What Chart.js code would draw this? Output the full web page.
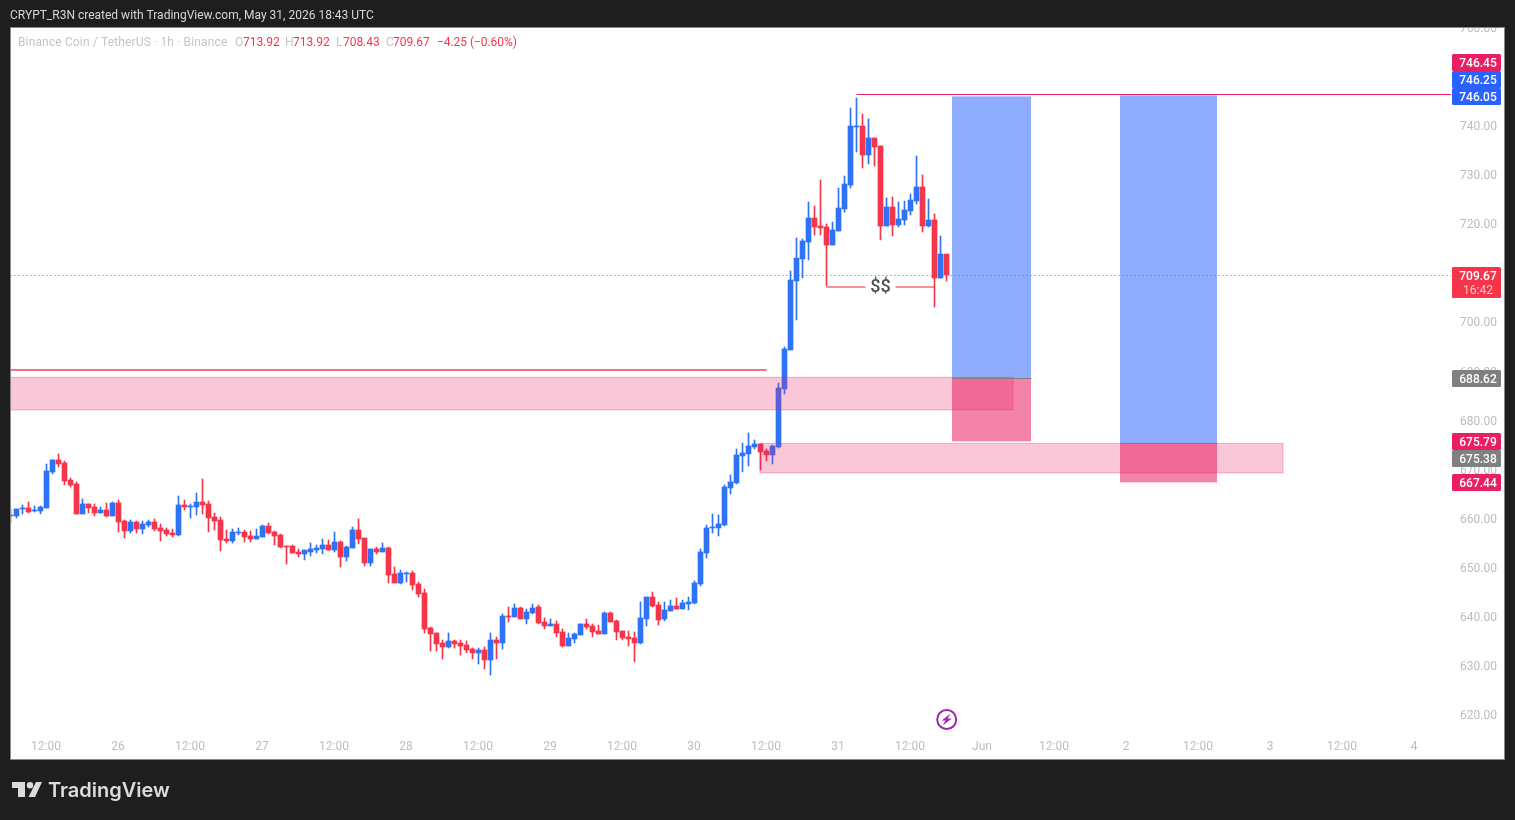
<!DOCTYPE html>
<html>
<head>
<meta charset="utf-8">
<title>BNBUSDT 1h</title>
<script src="https://cdn.jsdelivr.net/npm/chart.js@4"></script>
<style>
  html, body { margin: 0; padding: 0; background: #1e1e1e; overflow: hidden; }
  canvas { display: block; }
</style>
</head>
<body>
<canvas id="chart" width="1515" height="820"></canvas>
<script>
// hourly candles, first one is 25 May 06:00, hour 0 is 25 May 12:00
const firstHour = -6;
const opens = [
  660.59,660.59,662.02,662.22,661.61,661.61,662.22,669.55,672.00,671.39,667.92,667.11,661.00,663.04,662.42,661.20,661.81,660.59,663.24,659.57,657.54,659.37,657.94,658.76,659.37,658.15,657.74,657.13,656.72,662.83,662.42,662.42,663.44,663.04,660.39,659.78,655.91,655.50,657.13,657.33,656.52,
  655.90,656.31,658.55,657.33,656.72,654.48,654.48,653.26,652.85,653.26,653.66,653.87,654.68,653.66,655.29,652.24,654.07,657.74,656.11,651.02,653.87,653.26,654.07,648.78,646.94,648.78,648.98,646.74,644.91,637.78,636.76,634.72,633.91,635.13,634.72,634.32,633.50,632.69,633.30,631.26,635.33,634.72,640.22,
  640.02,641.85,639.61,640.84,642.06,639.00,638.19,638.60,636.97,634.11,635.54,636.35,638.60,638.19,637.17,636.56,640.84,639.21,637.17,635.95,635.74,634.73,639.61,644.09,642.46,639.61,641.24,642.26,641.65,642.67,642.87,
  646.74,653.06,658.15,658.15,658.76,666.30,667.32,672.81,673.22,674.65,675.26,673.83,673.02,674.65,686.46,
  694.40,708.45,712.93,716.39,721.28,719.65,719.45,715.78,718.63,723.12,728.00,739.82,740.02,734.11,737.58,735.95,719.65,723.52,719.86,720.87,722.71,724.74,727.60,719.65,720.87,709.06,713.92
];
const highs = [
  662.02,662.02,662.83,663.44,662.63,662.63,671.18,672.00,673.22,671.79,668.33,667.52,664.05,663.04,663.04,662.42,663.24,663.44,663.85,659.78,659.78,659.57,659.57,659.78,659.98,658.96,658.15,657.94,664.66,663.85,663.04,665.28,668.13,663.65,661.20,660.39,657.74,657.94,658.15,657.74,657.54,
  657.94,658.75,659.16,657.53,656.92,654.48,654.68,653.87,653.66,655.09,654.68,655.90,655.70,657.33,655.50,654.48,658.35,659.98,656.11,653.87,654.27,655.09,654.27,650.20,649.59,649.18,649.39,647.15,645.72,637.98,636.76,635.33,636.76,635.33,635.33,635.13,633.70,633.70,633.91,636.76,635.94,640.63,642.05,
  642.67,642.06,641.65,642.67,642.46,639.82,639.61,639.21,637.58,636.76,636.76,638.60,639.61,638.60,638.39,641.04,641.04,639.41,637.17,637.17,636.97,643.08,644.09,645.11,643.08,643.08,643.48,643.89,643.48,644.09,647.35,
  653.87,658.76,661.00,660.80,666.91,668.94,674.24,675.46,677.50,676.07,675.26,674.24,675.05,687.68,695.01,
  710.49,717.21,717.00,724.54,723.73,729.02,720.06,720.47,727.39,729.84,743.69,745.72,742.46,741.45,737.58,735.95,725.36,725.56,724.54,724.74,726.17,733.91,730.04,725.15,722.10,717.62,713.92
];
const lows = [
  659.23,660.18,661.00,661.20,661.41,661.00,662.22,669.15,670.57,666.90,666.50,661.00,661.00,661.20,660.59,661.20,660.39,660.59,657.33,656.11,657.13,657.13,656.93,658.35,657.54,655.50,656.52,656.31,656.52,661.81,660.18,660.79,661.00,657.33,657.74,653.46,655.09,655.09,656.72,655.30,655.30,
  655.90,656.31,656.92,654.68,654.07,650.81,653.05,652.24,651.63,652.44,653.05,652.85,653.66,653.26,650.20,651.42,654.07,654.89,650.40,650.40,652.85,653.26,646.94,646.94,646.74,647.15,645.52,644.09,636.76,633.09,633.09,631.46,633.70,633.70,632.28,632.69,631.46,630.44,629.43,628.20,631.46,633.50,639.00,
  640.02,639.61,638.60,640.63,638.60,637.58,638.19,635.95,633.91,634.11,634.73,636.35,637.58,635.95,636.56,636.56,639.00,635.34,635.34,634.11,630.86,634.52,638.19,642.06,638.39,639.21,641.24,641.65,641.65,641.45,642.67,
  646.34,652.04,657.13,656.52,658.56,665.07,667.11,669.56,670.78,674.24,669.96,671.80,671.18,674.44,685.44,
  694.40,700.51,709.06,712.73,717.82,717.82,707.43,715.78,718.63,722.50,727.39,734.72,731.47,732.28,731.87,716.80,719.65,717.62,719.45,719.86,721.89,724.13,718.43,719.45,703.16,709.06,708.43
];
const closes = [
  660.79,662.02,662.22,661.41,661.81,662.42,669.76,672.00,671.18,667.72,666.90,661.00,663.04,662.22,661.20,661.81,660.59,663.24,659.37,657.54,659.37,657.94,658.96,659.37,657.94,657.54,656.93,656.72,662.83,662.42,662.63,663.44,662.83,660.18,659.57,655.70,655.50,657.33,657.33,656.31,655.91,
  656.51,658.55,657.13,656.51,654.27,654.27,653.05,652.85,653.66,653.87,654.07,654.68,653.66,655.29,652.24,654.27,657.74,655.90,651.02,653.87,653.26,654.07,648.57,646.94,648.98,648.98,646.53,644.70,637.57,636.56,634.52,633.91,635.13,634.52,634.11,633.30,632.69,633.30,631.26,635.33,634.72,640.22,640.02,
  641.85,639.61,641.04,641.85,638.80,638.19,638.60,636.76,634.11,635.74,636.56,638.60,637.98,636.97,636.56,640.84,639.00,636.97,635.74,635.54,634.73,639.82,644.09,642.26,639.41,641.45,642.26,641.65,642.87,643.08,646.95,
  653.26,658.15,658.35,658.96,666.50,667.52,673.02,673.43,674.85,675.26,673.63,673.02,674.85,686.66,694.61,
  708.65,713.13,716.60,721.28,719.45,719.25,715.78,718.84,723.32,728.21,740.02,740.02,734.11,737.58,735.74,719.65,723.52,719.86,721.08,722.91,724.95,727.60,719.65,720.87,709.06,713.95,709.67
];

// axes
const priceTicks = [620,630,640,650,660,670,680,690,700,710,720,730,740,750,760];
const timeTickHours = [0,12,24,36,48,60,72,84,96,108,120,132,144,156,168,180,192,204,216,228];
const timeTickLabels = ['12:00','26','12:00','27','12:00','28','12:00','29','12:00','30','12:00','31','12:00','Jun','12:00','2','12:00','3','12:00','4'];

// drawings, hours and prices
const zoneStartHours = [-10, 119];
const zoneEndHours = [161.17, 206.17];
const zoneTops = [688.85, 675.38];
const zoneBottoms = [682.18, 669.35];
const positionStartHours = [151, 179];
const positionEndHours = [164.17, 195.17];
const positionTargets = [746.05, 746.25];
const positionEntries = [688.62, 675.38];
const positionStops = [675.79, 667.44];
const lastPrice = 709.67;
const levelStartHours = [-10, 135];
const levelEndHours = [120, 240];
const levelPrices = [690.4, 746.45];
const sweepHours = [130, 136.5, 141.5, 148];
const sweepPrice = 707.3;

const tagLabels = ['746.45','746.25','746.05','688.62','675.79','675.38','667.44'];
const tagFills = ['#e91e63','#2962ff','#2962ff','#808080','#e91e63','#808080','#e91e63'];
const tagCenters = [62.5,79.5,96.5,378.5,441.5,458.5,482.5];

const UP = '#2e73f6';
const DOWN = '#f5364a';
const FONT = 'Roboto, sans-serif';

const hours = opens.map((v, i) => firstHour + i);
const candleColors = opens.map((v, i) => closes[i] >= v ? UP : DOWN);
const wicks = hours.map((h, i) => ({ x: h, y: [lows[i], highs[i]] }));
const bodies = hours.map((h, i) => ({ x: h, y: [opens[i], closes[i]] }));

function text(ctx, str, x, y, color, font, align) {
    ctx.fillStyle = color;
    ctx.font = font || '12px ' + FONT;
    ctx.textAlign = align || 'left';
    ctx.textBaseline = 'middle';
    ctx.fillText(str, x, y);
}

const page = {
    id: 'page',
    beforeDraw(chart) {
        const ctx = chart.ctx;
        ctx.save();
        ctx.fillStyle = '#1e1e1e';
        ctx.fillRect(0, 0, 1515, 820);
        ctx.fillStyle = '#ffffff';
        ctx.fillRect(11, 28, 1493, 731);
        ctx.restore();
    },
    afterDatasetsDraw(chart) {
        const ctx = chart.ctx;
        const xs = chart.scales.x;
        const ys = chart.scales.y;
        const area = chart.chartArea;
        const box = (h0, h1, p0, p1, fill, edge) => {
            const x0 = xs.getPixelForValue(h0) - 0.5;
            const x1 = xs.getPixelForValue(h1) - 0.5;
            const y0 = ys.getPixelForValue(p0);
            const y1 = ys.getPixelForValue(p1);
            ctx.fillStyle = fill;
            ctx.fillRect(x0, y0, x1 - x0, y1 - y0);
            if (edge) {
                ctx.strokeStyle = edge;
                ctx.lineWidth = 1;
                ctx.strokeRect(x0, y0, x1 - x0, y1 - y0);
            }
        };
        const seg = (h0, h1, p, color, width, dash) => {
            ctx.strokeStyle = color;
            ctx.lineWidth = width;
            ctx.setLineDash(dash || []);
            ctx.beginPath();
            const y = Math.round(ys.getPixelForValue(p)) + (width % 2 ? 0.5 : 0);
            ctx.moveTo(xs.getPixelForValue(h0), y);
            ctx.lineTo(xs.getPixelForValue(h1), y);
            ctx.stroke();
            ctx.setLineDash([]);
        };

        ctx.save();
        ctx.beginPath();
        ctx.rect(area.left, area.top, area.right - area.left, area.bottom - area.top);
        ctx.clip();

        positionStartHours.forEach((h, i) => {
            box(h, positionEndHours[i], positionTargets[i], positionEntries[i], 'rgba(41,98,255,0.52)');
            box(h, positionEndHours[i], positionEntries[i], positionStops[i], 'rgba(233,30,99,0.55)');
        });
        zoneStartHours.forEach((h, i) => {
            box(h, zoneEndHours[i], zoneTops[i], zoneBottoms[i], 'rgba(233,30,99,0.25)', 'rgba(233,30,99,0.3)');
        });
        positionStartHours.forEach((h, i) => {
            seg(h, positionEndHours[i], positionEntries[i], '#808080', 1);
        });
        seg(-10, 240, lastPrice, DOWN, 1, [1, 3]);
        levelStartHours.forEach((h, i) => {
            if (i === 0) seg(h, levelEndHours[i], levelPrices[i], 'rgba(242,54,69,0.7)', 2);
            else seg(h, levelEndHours[i], levelPrices[i], '#e91e63', 1);
        });
        seg(sweepHours[0], sweepHours[1], sweepPrice, 'rgba(242,54,69,0.55)', 2);
        seg(sweepHours[2], sweepHours[3], sweepPrice, 'rgba(242,54,69,0.55)', 2);
        text(ctx, '$$', xs.getPixelForValue(139), ys.getPixelForValue(sweepPrice) + 1, '#4f4f4f', '500 18px ' + FONT, 'center');

        // bolt marker under the last candle
        const bx = xs.getPixelForValue(150) + 0.2;
        const by = 719.5;
        ctx.strokeStyle = '#9c27b0';
        ctx.lineWidth = 2;
        ctx.beginPath();
        ctx.arc(bx, by, 9.5, 0, Math.PI * 2);
        ctx.stroke();
        ctx.fillStyle = '#9c27b0';
        ctx.beginPath();
        ctx.moveTo(bx + 4, by - 6);
        ctx.lineTo(bx - 5, by + 1);
        ctx.lineTo(bx - 1, by + 1);
        ctx.lineTo(bx - 4, by + 6);
        ctx.lineTo(bx + 5, by - 1);
        ctx.lineTo(bx + 1, by - 1);
        ctx.closePath();
        ctx.fill();
        ctx.restore();
    },
    afterDraw(chart) {
        const ctx = chart.ctx;
        ctx.save();

        // cut the top tick label at the panel edge
        ctx.fillStyle = '#1e1e1e';
        ctx.fillRect(0, 0, 1515, 27);
        ctx.strokeStyle = '#888888';
        ctx.lineWidth = 1;
        ctx.strokeRect(10.5, 27.5, 1494, 732);

        text(ctx, 'CRYPT_R3N created with TradingView.com, May 31, 2026 18:43 UTC', 10, 15.5, '#d6d6d6');
        ctx.letterSpacing = '0.14px';
        text(ctx, 'Binance Coin / TetherUS · 1h · Binance', 18, 43, '#c4c4c4');
        ctx.letterSpacing = '-0.05px';
        const runs = [['O', 235, '#c4c4c4'], ['713.92', 243, DOWN], ['H', 285, '#c4c4c4'], ['713.92', 293, DOWN],
                      ['L', 336, '#c4c4c4'], ['708.43', 343, DOWN], ['C', 386, '#c4c4c4'], ['709.67', 393, DOWN],
                      ['−4.25 (−0.60%)', 437, DOWN]];
        runs.forEach(r => text(ctx, r[0], r[1], 43, r[2]));
        ctx.letterSpacing = '0px';

        tagLabels.forEach((t, i) => {
            ctx.fillStyle = tagFills[i];
            ctx.beginPath();
            ctx.roundRect(1452, tagCenters[i] - 8.5, 49, 17, 1.5);
            ctx.fill();
            text(ctx, t, 1478, tagCenters[i] + 1, '#ffffff', '500 12px ' + FONT, 'center');
        });
        ctx.fillStyle = '#f5364a';
        ctx.beginPath();
        ctx.roundRect(1452, 267, 49, 31, 1.5);
        ctx.fill();
        text(ctx, lastPrice.toFixed(2), 1478, 276.5, '#ffffff', '500 12px ' + FONT, 'center');
        text(ctx, '16:42', 1478, 290.5, '#ffc4ca', '12px ' + FONT, 'center');

        // logo
        ctx.fillStyle = '#dcdcdc';
        ctx.beginPath();
        ctx.moveTo(12, 782);
        ctx.lineTo(25, 782);
        ctx.lineTo(25, 797);
        ctx.lineTo(18, 797);
        ctx.lineTo(18, 788);
        ctx.lineTo(12, 788);
        ctx.closePath();
        ctx.moveTo(36, 782);
        ctx.lineTo(42, 782);
        ctx.lineTo(35, 797);
        ctx.lineTo(28.5, 797);
        ctx.closePath();
        ctx.fill();
        ctx.beginPath();
        ctx.arc(30, 785.3, 3.2, 0, Math.PI * 2);
        ctx.fill();
        text(ctx, 'TradingView', 48, 790.5, '#dcdcdc', '600 20px Inter, sans-serif');
        ctx.restore();
    }
};

new Chart(document.getElementById('chart'), {
    type: 'bar',
    data: {
        datasets: [
            { data: wicks, backgroundColor: candleColors, barThickness: 1, grouped: false, order: 2, borderWidth: 0 },
            { data: bodies, backgroundColor: candleColors, barThickness: 5, grouped: false, order: 1, borderWidth: 0 }
        ]
    },
    options: {
        responsive: false,
        animation: false,
        devicePixelRatio: 1,
        layout: { padding: { left: 11, top: 28, right: 11, bottom: 61 } },
        plugins: { legend: { display: false }, tooltip: { enabled: false } },
        scales: {
            x: {
                type: 'linear',
                offset: false,
                min: (11 - 46.5) / 6,
                max: (1451 - 46.5) / 6,
                grid: { display: false },
                border: { display: false },
                afterBuildTicks: s => { s.ticks = timeTickHours.map(v => ({ value: v })); },
                afterFit: s => { s.height = 26; },
                ticks: {
                    autoSkip: false,
                    maxRotation: 0,
                    padding: -1,
                    labelOffset: -0.5,
                    color: '#bdbdbd',
                    font: { family: FONT, size: 12 },
                    callback: (v, i) => timeTickLabels[i]
                }
            },
            y: {
                type: 'linear',
                position: 'right',
                min: 616.39,
                max: 759.98,
                grid: { display: false, drawTicks: false },
                border: { display: false },
                afterBuildTicks: s => { s.ticks = priceTicks.map(v => ({ value: v })); },
                afterFit: s => { s.width = 53; },
                ticks: {
                    autoSkip: false,
                    padding: 9,
                    labelOffset: 1,
                    color: '#bdbdbd',
                    font: { family: FONT, size: 12 },
                    callback: v => v.toFixed(2)
                }
            }
        }
    },
    plugins: [page]
});
</script>
</body>
</html>
